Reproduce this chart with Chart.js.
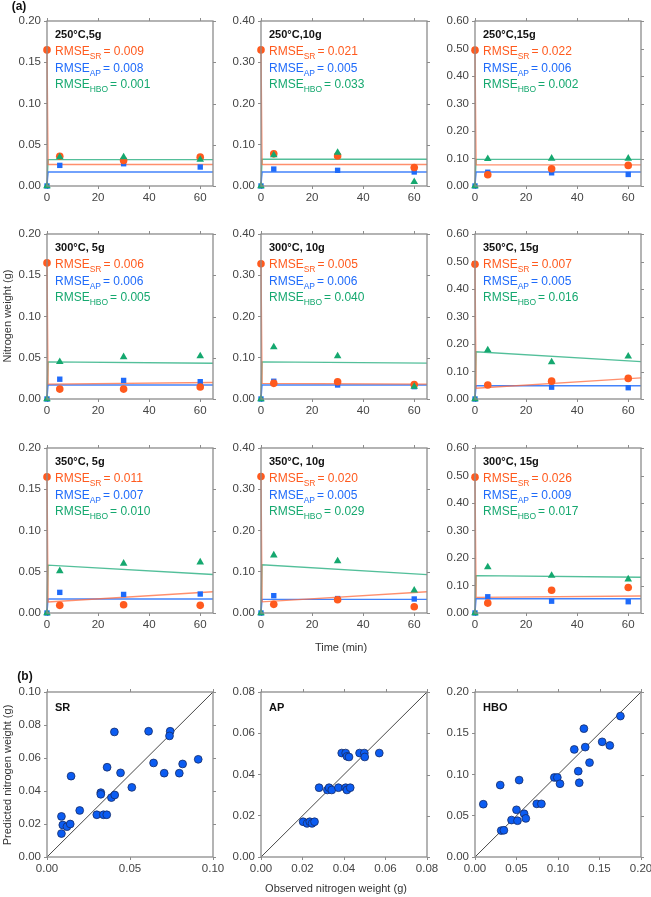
<!DOCTYPE html>
<html>
<head>
<meta charset="utf-8">
<script src="https://cdn.jsdelivr.net/npm/chart.js@4.4.1/dist/chart.umd.min.js"></script>
<style>
  body { margin: 0; background: #fff; font-family: "Liberation Sans", Arial, sans-serif; }
  #fig { position: relative; width: 651px; height: 897px; overflow: hidden; }
  canvas { position: absolute; }
  .lbl { position: absolute; color: #333; font-size: 11px; white-space: nowrap; transform: translate(-50%, -50%); z-index: 2; }
  .rot { transform: translate(-50%, -50%) rotate(-90deg); }
  .tag { font-weight: bold; color: #111; font-size: 12px; }
</style>
</head>
<body>
<div id="fig">
  <div class="lbl tag" style="left:19px;top:6px">(a)</div>
  <div class="lbl rot" style="left:7px;top:316px">Nitrogen weight (g)</div>
  <div class="lbl" style="left:341px;top:647px">Time (min)</div>
  <div class="lbl tag" style="left:25px;top:676px">(b)</div>
  <div class="lbl rot" style="left:7px;top:775px">Predicted nitrogen weight (g)</div>
  <div class="lbl" style="left:336px;top:888px">Observed nitrogen weight (g)</div>
</div>
<script>
// ================= DATA =================
const times = [0, 5, 30, 60];
const panelTitles = ["250°C,5g", "250°C,10g", "250°C,15g", "300°C, 5g", "300°C, 10g", "350°C, 15g", "350°C, 5g", "350°C, 10g", "300°C, 15g"];
const panelYMax = [0.2, 0.4, 0.6, 0.2, 0.4, 0.6, 0.2, 0.4, 0.6];
const panelYStep = [0.05, 0.1, 0.1, 0.05, 0.1, 0.1, 0.05, 0.1, 0.1];

const rmseSR = ["0.009", "0.021", "0.022", "0.006", "0.005", "0.007", "0.011", "0.020", "0.026"];
const rmseAP = ["0.008", "0.005", "0.006", "0.006", "0.006", "0.005", "0.007", "0.005", "0.009"];
const rmseHBO = ["0.001", "0.033", "0.002", "0.005", "0.040", "0.016", "0.010", "0.029", "0.017"];

// observed values at t = 0, 5, 30, 60 min
const obsSR = [
  [0.165, 0.036, 0.031, 0.035],
  [0.330, 0.078, 0.073, 0.045],
  [0.494, 0.041, 0.063, 0.075],
  [0.165, 0.012, 0.012, 0.0145],
  [0.328, 0.038, 0.042, 0.035],
  [0.490, 0.051, 0.065, 0.075],
  [0.165, 0.0093, 0.010, 0.0093],
  [0.331, 0.021, 0.032, 0.015],
  [0.494, 0.036, 0.083, 0.093]
];
const obsAP = [
  [0, 0.025, 0.027, 0.023],
  [0, 0.041, 0.038, 0.034],
  [0, 0.050, 0.048, 0.042],
  [0, 0.024, 0.0225, 0.021],
  [0, 0.043, 0.034, 0.030],
  [0, 0.050, 0.043, 0.041],
  [0, 0.025, 0.0225, 0.023],
  [0, 0.042, 0.035, 0.034],
  [0, 0.059, 0.043, 0.041]
];
const obsHBO = [
  [0, 0.035, 0.035, 0.032],
  [0, 0.075, 0.081, 0.010],
  [0, 0.099, 0.100, 0.100],
  [0, 0.045, 0.051, 0.052],
  [0, 0.126, 0.104, 0.030],
  [0, 0.178, 0.134, 0.155],
  [0, 0.051, 0.060, 0.0615],
  [0, 0.140, 0.126, 0.055],
  [0, 0.167, 0.136, 0.123]
];

// model curves: [value just after t=0, value at t=65]
const fitTimes = [0, 0.4, 65];
const fitSR = [[0.026, 0.026], [0.052, 0.052], [0.077, 0.077], [0.018, 0.020], [0.038, 0.036], [0.039, 0.077], [0.0133, 0.0258], [0.027, 0.0515], [0.057, 0.062]];
const fitAP = [[0.017, 0.017], [0.034, 0.034], [0.051, 0.051], [0.017, 0.017], [0.034, 0.034], [0.048, 0.048], [0.017, 0.017], [0.033, 0.033], [0.052, 0.052]];
const fitHBO = [[0.032, 0.032], [0.065, 0.065], [0.097, 0.097], [0.045, 0.0434], [0.090, 0.087], [0.172, 0.136], [0.058, 0.0467], [0.117, 0.093], [0.136, 0.130]];

// (b) observed vs predicted
const srObs  = [0.0087, 0.0095, 0.0087, 0.012, 0.014, 0.0145, 0.0197, 0.030, 0.034, 0.036, 0.0324, 0.0324, 0.0388, 0.0408, 0.0362, 0.0443, 0.0406, 0.0511, 0.0612, 0.0642, 0.0706, 0.0742, 0.0738, 0.0797, 0.0817, 0.0911];
const srPred = [0.0246, 0.0194, 0.0142, 0.0184, 0.020, 0.049, 0.0282, 0.0256, 0.0256, 0.0256, 0.039, 0.038, 0.036, 0.0376, 0.0544, 0.051, 0.0758, 0.0422, 0.0762, 0.057, 0.0508, 0.0762, 0.0734, 0.0508, 0.0564, 0.0592];
const apObs  = [0.0203, 0.0222, 0.0235, 0.0246, 0.0258, 0.028, 0.032, 0.0328, 0.0341, 0.0373, 0.0408, 0.0414, 0.043, 0.0389, 0.0408, 0.0414, 0.0424, 0.0475, 0.0498, 0.050, 0.057];
const apPred = [0.0171, 0.0163, 0.0171, 0.0163, 0.0171, 0.0336, 0.0325, 0.0336, 0.0325, 0.0336, 0.0336, 0.0325, 0.0336, 0.0504, 0.0504, 0.0488, 0.0485, 0.0504, 0.0504, 0.0485, 0.0504];
const hboObs  = [0.010, 0.0304, 0.0532, 0.0316, 0.0348, 0.044, 0.050, 0.0512, 0.0592, 0.0612, 0.0744, 0.080, 0.0956, 0.0992, 0.1024, 0.1196, 0.1244, 0.1256, 0.1312, 0.1328, 0.138, 0.1532, 0.1624, 0.1752];
const hboPred = [0.064, 0.0872, 0.0932, 0.032, 0.0324, 0.0448, 0.0572, 0.044, 0.0524, 0.0468, 0.0644, 0.0644, 0.0964, 0.0964, 0.0888, 0.1304, 0.104, 0.090, 0.1556, 0.1332, 0.1144, 0.1396, 0.1352, 0.1708];
const scatterNames = ["SR", "AP", "HBO"];
const scatterMax = [0.10, 0.08, 0.20];
const scatterXStep = [0.05, 0.02, 0.05];
const scatterYStep = [0.02, 0.02, 0.05];

// ================= STYLE / LAYOUT =================
const ORANGE = "#ff5a1e", BLUE = "#1f6bfa", GREEN = "#15a86f";
const colLeft = [47, 261, 475];
const rowTop = [21, 234, 448];
const bTop = 692;
const plotW = 166, plotH = 165;
const PAD_L = 47, PAD_T = 12, PAD_R = 16, PAD_B = 24;
const FONT = '"Liberation Sans", Arial, sans-serif';

Chart.defaults.font.family = FONT;
Chart.defaults.color = "#444";

const framePlugin = {
    id: "frame",
    afterDatasetsDraw(chart) {
        const { ctx, chartArea: a, scales } = chart;
        ctx.save();
        ctx.strokeStyle = "#8c8c8c";
        ctx.lineWidth = 1.3;
        ctx.strokeRect(a.left, a.top, a.right - a.left, a.bottom - a.top);
        ctx.lineWidth = 1;
        ctx.beginPath();
        scales.x.ticks.forEach(t => {
            const px = Math.round(scales.x.getPixelForValue(t.value)) + 0.5;
            ctx.moveTo(px, a.top); ctx.lineTo(px, a.top - 3);
        });
        scales.y.ticks.forEach(t => {
            const py = Math.round(scales.y.getPixelForValue(t.value)) + 0.5;
            ctx.moveTo(a.right, py); ctx.lineTo(a.right + 3, py);
        });
        ctx.stroke();
        ctx.restore();
    }
};

const textPlugin = {
    id: "panelText",
    afterDraw(chart) {
        const o = chart.options.plugins.panelText;
        if (!o) return;
        const { ctx, chartArea: a } = chart;
        const x = a.left + 8;
        ctx.save();
        ctx.textBaseline = "middle";
        ctx.textAlign = "left";
        ctx.fillStyle = "#111";
        ctx.font = "bold 11px " + FONT;
        ctx.fillText(o.title, x, a.top + o.titleY);
        (o.lines || []).forEach((ln, i) => {
            const y = a.top + 31 + i * 16.5;
            ctx.fillStyle = ln.color;
            ctx.font = "12px " + FONT;
            ctx.fillText("RMSE", x, y);
            let w = ctx.measureText("RMSE").width;
            ctx.font = "8.5px " + FONT;
            ctx.fillText(ln.sub, x + w, y + 5);
            w += ctx.measureText(ln.sub).width + 2;
            ctx.font = "12px " + FONT;
            ctx.fillText("= " + ln.value, x + w, y);
        });
        ctx.restore();
    }
};

function makeCanvas(left, top) {
    const c = document.createElement("canvas");
    c.width = plotW + PAD_L + PAD_R;
    c.height = plotH + PAD_T + PAD_B;
    c.style.left = (left - PAD_L) + "px";
    c.style.top = (top - PAD_T) + "px";
    document.getElementById("fig").appendChild(c);
    return c;
}

function axis(min, max, step, digits, isX) {
    return {
        type: "linear",
        min: min,
        max: max,
        afterFit: s => { if (isX) s.height = PAD_B; else s.width = PAD_L; },
        afterBuildTicks: s => {
            s.ticks = s.ticks.filter(t => Math.abs(t.value / step - Math.round(t.value / step)) < 1e-6);
        },
        ticks: {
            stepSize: step,
            includeBounds: false,
            color: "#444",
            font: { size: 11.5 },
            padding: isX ? 2 : 3,
            maxRotation: 0,
            autoSkip: false,
            callback: v => Number(v).toFixed(digits)
        },
        grid: { drawOnChartArea: false, drawTicks: true, tickLength: 3, color: "#8c8c8c" },
        border: { display: false }
    };
}

function pts(xs, ys) {
    return xs.map((x, i) => ({ x: x, y: ys[i] }));
}

function baseOptions(scales, text) {
    return {
        responsive: false,
        animation: false,
        devicePixelRatio: 1,
        events: [],
        layout: { padding: { top: PAD_T, right: PAD_R, left: 0, bottom: 0 } },
        scales: scales,
        plugins: { legend: { display: false }, tooltip: { enabled: false }, panelText: text }
    };
}

// ================= (a) TIME PANELS =================
for (let p = 0; p < 9; p++) {
    const canvas = makeCanvas(colLeft[p % 3], rowTop[Math.floor(p / 3)]);
    const fitLine = (ys, color) => ({
        data: pts(fitTimes, ys), showLine: true, pointRadius: 0,
        borderColor: color, borderWidth: 1.4, clip: false, order: 5
    });
    const marks = (ys, color, style, r, ord) => ({
        data: pts(times, ys), showLine: false, pointStyle: style, pointRadius: r,
        backgroundColor: color, borderColor: color, borderWidth: 0, clip: false, order: ord
    });
    new Chart(canvas, {
        type: "scatter",
        data: {
            datasets: [
                fitLine([obsSR[p][0], fitSR[p][0], fitSR[p][1]], "rgba(255,105,60,0.75)"),
                fitLine([0, fitAP[p][0], fitAP[p][1]], "rgba(35,110,250,0.85)"),
                fitLine([0, fitHBO[p][0], fitHBO[p][1]], "rgba(25,170,120,0.75)"),
                marks(obsAP[p], BLUE, "rect", 3.8, 3),
                marks(obsSR[p], ORANGE, "circle", 3.8, 2),
                marks(obsHBO[p], GREEN, "triangle", 4.4, 1)
            ]
        },
        options: baseOptions({
            x: axis(0, 65, 20, 0, true),
            y: axis(0, panelYMax[p], panelYStep[p], 2, false)
        }, {
            title: panelTitles[p], titleY: 14,
            lines: [
                { sub: "SR", value: rmseSR[p], color: ORANGE },
                { sub: "AP", value: rmseAP[p], color: BLUE },
                { sub: "HBO", value: rmseHBO[p], color: GREEN }
            ]
        }),
        plugins: [framePlugin, textPlugin]
    });
}

// ================= (b) PARITY PANELS =================
const scatterObs = [srObs, apObs, hboObs];
const scatterPred = [srPred, apPred, hboPred];
for (let k = 0; k < 3; k++) {
    const canvas = makeCanvas(colLeft[k], bTop);
    const m = scatterMax[k];
    new Chart(canvas, {
        type: "scatter",
        data: {
            datasets: [
                {
                    data: pts([0, m], [0, m]), showLine: true, pointRadius: 0,
                    borderColor: "#333", borderWidth: 0.9, order: 2
                },
                {
                    data: pts(scatterObs[k], scatterPred[k]), pointRadius: 3.9,
                    backgroundColor: "#0b5cf2", borderColor: "#172c66", borderWidth: 0.8,
                    clip: false, order: 1
                }
            ]
        },
        options: baseOptions({
            x: axis(0, m, scatterXStep[k], 2, true),
            y: axis(0, m, scatterYStep[k], 2, false)
        }, { title: scatterNames[k], titleY: 16, lines: [] }),
        plugins: [framePlugin, textPlugin]
    });
}
</script>
</body>
</html>
